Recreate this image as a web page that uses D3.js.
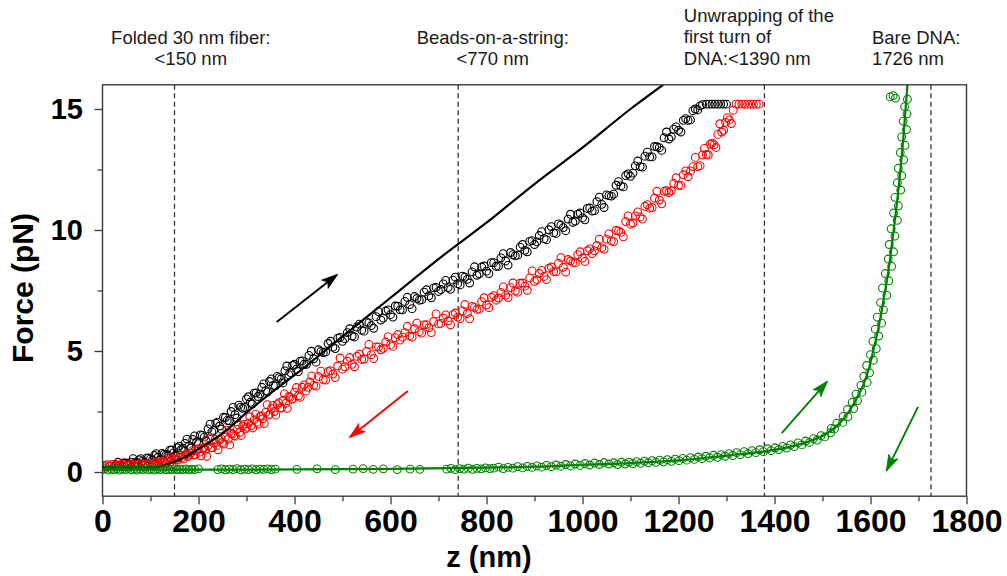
<!DOCTYPE html>
<html><head><meta charset="utf-8">
<script src="https://cdn.jsdelivr.net/npm/d3@7"></script>
<style>
body{margin:0;background:#fff}
svg{display:block}
text{font-family:"Liberation Sans",Arial,Helvetica,sans-serif}
</style>
</head><body>
<svg id="c" width="1007" height="576"></svg>
<script>
// ---------------- DATA ----------------
const xDomain = [0, 1800];
const yDomain = [-1, 16];
const xTicks = [0,200,400,600,800,1000,1200,1400,1600,1800];
const xMinorTicks = [100,300,500,700,900,1100,1300,1500,1700];
const yTicks = [0,5,10,15];
const yMinorTicks = [2.5,7.5,12.5];
const xLabel = "z (nm)";
const yLabel = "Force (pN)";
const markerZ = [150, 741, 1379, 1726];
const noteLines = [
  ["Folded 30 nm fiber:", "<150 nm"],
  ["Beads-on-a-string:", "<770 nm"],
  ["Unwrapping of the", "first turn of", "DNA:<1390 nm"],
  ["Bare DNA:", "1726 nm"]
];

// stretching (black circles)
const blackZ = [28,36,44,52,60,68,76,84,92,100,108,116,124,132,140,148,156,164,172,180,188,196,204,212,220,228,236,244,252,260,268,276,284,292,300,308,316,324,332,340,348,356,364,372,380,388,396,404,412,420,430,440,450,460,470,480,490,500,510,520,530,540,550,560,570,580,590,600,610,620,630,640,650,660,670,680,690,700,710,720,730,740,750,760,770,780,790,800,810,820,830,840,850,860,870,880,890,900,910,920,930,940,950,960,970,980,990,1000,1010,1020,1030,1040,1050,1060,1070,1080,1090,1100,1110,1120,1130,1140,1150,1160,1170,1180,1190,1200,1210,1220,1230,1240,1250,1258,1264,1270,1276,1282,1288,1294,1300,
32,40,48,56,64,72,80,88,96,104,112,120,128,136,144,152,160,168,176,184,192,200,208,216,224,232,240,248,256,264,272,280,288,296,304,312,320,328,336,344,352,360,368,376,384,392,400,408,416,425,435,445,455,465,475,485,495,505,515,525,535,545,555,565,575,585,595,605,615,625,635,645,655,665,675,685,695,705,715,725,735,745,755,765,775,785,795,805,815,825,835,845,855,865,875,885,895,905,915,925,935,945,955,965,975,985,995,1005,1015,1025,1035,1045,1055,1065,1075,1085,1095,1105,1115,1125,1135,1145,1155,1165,1175,1185,1195,1205,1215,1225,1235,1245];
const blackF = [0.30,0.26,0.37,0.33,0.41,0.38,0.50,0.45,0.57,0.54,0.68,0.61,0.77,0.70,0.90,0.79,1.00,0.93,1.18,1.08,1.35,1.25,1.53,1.44,1.78,1.66,2.02,1.90,2.26,2.13,2.50,2.37,2.76,2.63,3.02,2.88,3.26,3.12,3.50,3.36,3.74,3.58,3.95,3.84,4.18,4.02,4.40,4.25,4.58,4.45,4.82,4.68,5.05,4.93,5.31,5.16,5.53,5.40,5.76,5.62,5.99,5.86,6.20,6.05,6.42,6.28,6.65,6.50,6.86,6.70,7.05,6.92,7.25,7.10,7.43,7.28,7.61,7.46,7.77,7.62,7.93,7.78,8.09,7.96,8.27,8.13,8.47,8.30,8.65,8.50,8.85,8.72,9.07,8.93,9.29,9.16,9.53,9.40,9.77,9.64,10.01,9.88,10.25,10.10,10.45,10.32,10.65,10.50,10.89,10.78,11.17,11.06,11.45,11.40,11.85,11.82,12.25,12.22,12.65,12.62,13.05,13.02,13.45,13.40,13.81,13.76,14.17,14.12,14.53,14.53,14.93,14.96,15.18,15.2,15.2,15.2,15.2,15.2,15.2,15.2,15.2,
0.40,0.23,0.37,0.30,0.55,0.39,0.55,0.38,0.58,0.49,0.76,0.52,0.73,0.71,0.91,0.65,1.07,0.98,1.36,0.99,1.49,1.17,1.51,1.29,1.98,1.72,2.06,1.77,2.25,2.12,2.67,2.23,2.68,2.67,3.11,2.81,3.27,3.22,3.64,3.31,3.85,3.56,3.90,3.68,4.38,4.11,4.45,4.15,4.59,4.45,4.99,4.54,4.98,4.96,5.40,5.10,5.56,5.51,5.92,5.58,6.11,5.82,6.16,5.94,6.63,6.36,6.70,6.40,6.85,6.70,7.22,6.75,7.17,7.12,7.53,7.20,7.63,7.54,7.92,7.55,8.05,7.73,8.05,7.81,8.48,8.19,8.51,8.20,8.65,8.50,9.02,8.55,8.98,8.96,9.40,9.10,9.56,9.51,9.93,9.60,10.14,9.86,10.20,9.97,10.65,10.37,10.70,10.42,10.91,10.80,11.36,10.93,11.42,11.48,12.00,11.78,12.32,12.35,12.85,12.60,13.22,13.02,13.44,13.29,14.05,13.85,14.26,14.05,14.60,14.55,15.00,15.13];

// relaxation (red circles)
const redZ = [0,5,10,15,20,25,30,35,40,45,50,55,60,65,70,75,80,85,90,95,100,106,112,118,124,130,136,142,148,154,160,166,172,178,184,190,196,202,208,214,220,226,232,238,244,250,256,262,268,274,280,286,292,298,304,310,316,322,328,334,340,346,352,358,364,370,376,382,388,394,400,408,416,424,432,440,450,460,470,480,490,500,510,520,530,540,550,560,570,580,590,600,610,620,630,640,650,660,670,680,690,700,710,720,730,740,750,760,770,780,790,800,810,820,830,840,850,860,870,880,890,900,910,920,930,940,950,960,970,980,990,1000,1010,1020,1030,1040,1050,1060,1070,1080,1090,1100,1110,1120,1130,1140,1150,1160,1170,1180,1190,1200,1210,1220,1230,1240,1250,1258,1266,1274,1282,1290,1298,1306,1314,1320,1326,1332,1338,1344,1350,1356,1362,1368,
109,115,121,127,133,139,145,151,157,163,169,175,181,187,193,199,205,211,217,223,229,235,241,247,253,259,265,271,277,283,289,295,301,307,313,319,325,331,337,343,349,355,361,367,373,379,385,391,397,404,412,420,428,436,445,455,465,475,485,495,505,515,525,535,545,555,565,575,585,595,605,615,625,635,645,655,665,675,685,695,705,715,725,735,745,755,765,775,785,795,805,815,825,835,845,855,865,875,885,895,905,915,925,935,945,955,965,975,985,995,1005,1015,1025,1035,1045,1055,1065,1075,1085,1095,1105,1115,1125,1135,1145,1155,1165,1175,1185,1195,1205,1215,1225,1235,1245,1254,1262,1270,1278,1286,1294,1302,1310];
const redF = [0.28,0.22,0.30,0.24,0.31,0.23,0.29,0.25,0.32,0.24,0.30,0.26,0.33,0.25,0.31,0.27,0.34,0.26,0.33,0.29,0.36,0.30,0.40,0.34,0.45,0.39,0.50,0.43,0.56,0.50,0.62,0.58,0.70,0.64,0.78,0.72,0.88,0.82,0.97,0.90,1.08,1.00,1.20,1.10,1.33,1.22,1.45,1.36,1.60,1.50,1.76,1.64,1.90,1.78,2.02,1.92,2.15,2.06,2.30,2.20,2.46,2.35,2.62,2.50,2.78,2.66,2.96,2.84,3.12,3.00,3.30,3.15,3.50,3.35,3.72,3.58,3.95,3.82,4.15,4.05,4.38,4.25,4.58,4.45,4.78,4.65,4.98,4.85,5.17,5.05,5.37,5.25,5.55,5.45,5.76,5.62,5.92,5.80,6.08,5.96,6.22,6.12,6.36,6.25,6.50,6.40,6.66,6.55,6.84,6.72,7.04,6.90,7.22,7.10,7.42,7.30,7.62,7.48,7.80,7.68,8.02,7.88,8.20,8.08,8.42,8.28,8.62,8.46,8.78,8.66,8.98,8.84,9.14,9.02,9.36,9.26,9.62,9.55,9.98,9.90,10.35,10.24,10.58,10.54,10.98,10.90,11.32,11.24,11.60,11.55,11.92,11.85,12.28,12.20,12.62,12.62,13.10,13.12,13.55,13.52,13.95,14.05,14.45,14.55,14.95,15.2,15.2,15.2,15.2,15.2,15.2,15.2,15.2,15.2,
0.29,0.43,0.26,0.45,0.35,0.60,0.33,0.52,0.49,0.70,0.53,0.75,0.70,0.88,0.70,0.95,0.67,1.00,0.65,1.40,1.00,1.34,0.92,1.39,1.16,1.73,1.12,1.57,1.48,1.94,1.51,1.98,1.85,2.28,1.82,2.39,1.98,2.33,2.00,2.78,2.39,2.75,2.35,2.86,2.64,3.23,2.63,3.09,3.02,3.49,3.09,3.60,3.50,3.97,3.55,4.17,3.80,4.19,3.90,4.71,4.35,4.73,4.35,4.87,4.67,5.27,4.69,5.17,5.11,5.59,5.19,5.68,5.57,6.02,5.57,6.15,5.74,6.09,5.76,6.53,6.14,6.49,6.08,6.57,6.34,6.92,6.33,6.80,6.73,7.20,6.79,7.29,7.19,7.65,7.21,7.81,7.43,7.81,7.51,8.31,7.95,8.33,7.95,8.47,8.27,8.86,8.26,8.72,8.64,9.10,8.70,9.22,9.14,9.62,9.20,9.84,9.52,9.96,9.72,10.58,10.29,10.75,10.45,11.05,10.93,11.60,11.08,11.62,11.62,12.16,11.84,12.44,12.44,13.00,12.66,13.37,13.10,13.59,13.41,14.39,14.12,14.64,14.40];

// bare DNA (green circles)
const greenZ = [0,6,12,18,24,30,36,42,48,54,60,66,72,78,84,90,96,102,108,114,120,126,132,138,144,150,156,162,168,174,180,186,192,200,
240,248,256,264,272,280,288,296,304,312,320,328,336,344,352,360,
405,447,485,522,543,564,585,614,641,661,
717,726,735,744,753,762,771,780,789,798,807,
815,825,835,845,855,865,875,885,895,905,915,925,935,945,955,965,975,985,995,1005,1015,1025,1035,1045,1055,
1065,1073,1081,1089,1097,1105,1113,1121,1129,1137,1145,1153,1161,1169,1177,1185,1193,1201,1209,1217,1225,1233,1241,1249,1257,1265,1273,1281,1289,1297,1305,1313,1321,1329,1337,1345,1353,1361,1369,1377,1385,1393,1401,1409,1417,1425,1433,1441,1449,1457,1465,1473,1481,1489,1497,1505,
1517,1518,1525,1530,1542,1543,1553,1552,1565,1562,1573,1570,1582,1580,1593,1586,1598,1592,1606,1600,1612,1605,1617,1610,1623,1614,1627,1621,1634,1625,1638,1631,1644,1637,1648,1639,1651,1643,1656,1648,1658,1651,1663,1656,1665,1658,1669,1662,1672,1665,1675,1668,1676,1671,1677,1641,1647,1652];
const greenF = [0.10,0.14,0.08,0.12,0.09,0.13,0.08,0.12,0.10,0.14,0.09,0.12,0.08,0.13,0.10,0.14,0.09,0.12,0.08,0.13,0.10,0.14,0.09,0.12,0.10,0.13,0.09,0.12,0.10,0.13,0.09,0.12,0.10,0.13,
0.10,0.13,0.09,0.12,0.10,0.14,0.09,0.12,0.10,0.13,0.09,0.12,0.11,0.13,0.10,0.12,
0.11,0.13,0.10,0.12,0.14,0.11,0.13,0.10,0.12,0.11,
0.12,0.15,0.10,0.14,0.12,0.16,0.11,0.15,0.13,0.17,0.14,
0.16,0.20,0.14,0.19,0.16,0.22,0.17,0.23,0.19,0.25,0.20,0.27,0.22,0.29,0.24,0.31,0.25,0.33,0.27,0.35,0.29,0.37,0.31,0.39,0.33,
0.38,0.31,0.40,0.33,0.41,0.35,0.43,0.36,0.45,0.38,0.47,0.40,0.49,0.42,0.51,0.44,0.53,0.47,0.56,0.49,0.59,0.52,0.62,0.55,0.65,0.58,0.69,0.61,0.72,0.65,0.76,0.68,0.80,0.72,0.84,0.76,0.88,0.80,0.92,0.84,0.96,0.88,1.00,0.93,1.06,0.99,1.12,1.05,1.20,1.12,1.28,1.22,1.38,1.32,1.50,1.45,
1.62,1.80,1.78,2.02,2.05,2.30,2.28,2.58,2.62,2.88,2.95,3.22,3.30,3.58,3.70,3.95,4.10,4.40,4.62,4.85,5.10,5.40,5.62,5.90,6.15,6.40,6.70,7.00,7.30,7.60,7.90,8.20,8.50,8.80,9.10,9.40,9.75,10.05,10.40,10.70,11.00,11.35,11.65,11.95,12.25,12.55,12.90,13.20,13.50,13.85,14.15,14.50,14.80,15.10,15.40,15.50,15.55,15.45];

// fitted curves (solid lines)
const chromatinFitZ = [0,110,140,170,200,250,300,350,400,500,600,700,800,900,1000,1100,1168];
const chromatinFitF = [0.2,0.2,0.35,0.6,0.95,1.6,2.45,3.25,4.0,5.6,7.2,8.8,10.3,11.9,13.4,15.0,16.0];
const dnaFitZ = [0,300,600,800,900,1000,1100,1200,1300,1380,1440,1480,1510,1535,1555,1570,1585,1597,1608,1618,1628,1638,1647,1655,1662,1668,1673,1677];
const dnaFitF = [0.1,0.1,0.13,0.18,0.22,0.3,0.37,0.48,0.68,0.86,1.08,1.32,1.6,2.0,2.5,3.0,3.6,4.3,5.2,6.1,7.2,8.4,9.8,11.1,12.4,13.7,15.0,16.0];

// direction arrows (data units): [fromZ, fromF, toZ, toF]
const arrowBlack = [363, 6.2, 488, 8.14];
const arrowRed = [636, 3.35, 516, 1.45];
const arrowGreenUp = [1415, 1.61, 1509, 3.72];
const arrowGreenDown = [1699, 2.69, 1634, 0.08];

// ---------------- DRAW ----------------
const svg = d3.select("#c");
const L = 102.5, R = 966.5, T = 84.8, B = 496.2;
const x = d3.scaleLinear().domain(xDomain).range([L, R]);
const y = d3.scaleLinear().domain(yDomain).range([B, T]);
const frameCol = "#3a3a3a";

const defs = svg.append("defs");
defs.append("clipPath").attr("id","clip")
  .append("rect").attr("x",L).attr("y",T).attr("width",R-L).attr("height",B-T);
[["black","#000"],["red","#ff0000"],["green","#008000"]].forEach(([n,c])=>{
  defs.append("marker").attr("id","ah-"+n).attr("markerUnits","userSpaceOnUse")
    .attr("markerWidth",20).attr("markerHeight",20).attr("refX",0).attr("refY",0)
    .attr("viewBox","-14 -7 16 14").attr("orient","auto")
    .append("path").attr("d","M1,0 L-12,-4.2 L-9,0 L-12,4.2 Z").attr("fill",c).attr("stroke",c).attr("stroke-width",0.6);
});

// dashed markers
svg.append("g").selectAll("line").data(markerZ).join("line")
  .attr("x1",d=>x(d)).attr("x2",d=>x(d)).attr("y1",T).attr("y2",B)
  .attr("stroke","#333").attr("stroke-width",1.3).attr("stroke-dasharray","5,3.5");

const plot = svg.append("g").attr("clip-path","url(#clip)");
const circ = (zs, fs, col) => plot.append("g").selectAll("circle").data(zs.map((z,i)=>[z,fs[i]])).join("circle")
  .attr("cx",d=>x(d[0])).attr("cy",d=>y(d[1])).attr("r",3.9)
  .attr("fill","none").attr("stroke",col).attr("stroke-width",1.1);
circ(blackZ, blackF, "#000");
circ(redZ, redF, "#ff0000");
const line = d3.line().x(d=>x(d[0])).y(d=>y(d[1])).curve(d3.curveMonotoneX);
plot.append("path").attr("d", line(chromatinFitZ.map((z,i)=>[z,chromatinFitF[i]])))
  .attr("fill","none").attr("stroke","#000").attr("stroke-width",2.2);
circ(greenZ, greenF, "#008000");
plot.append("path").attr("d", line(dnaFitZ.map((z,i)=>[z,dnaFitF[i]])))
  .attr("fill","none").attr("stroke","#008000").attr("stroke-width",2.2);

// arrows
[[arrowBlack,"#000","black"],[arrowRed,"#ff0000","red"],[arrowGreenUp,"#008000","green"],[arrowGreenDown,"#008000","green"]]
.forEach(([a,c,n])=>{
  svg.append("line").attr("x1",x(a[0])).attr("y1",y(a[1])).attr("x2",x(a[2])).attr("y2",y(a[3]))
    .attr("stroke",c).attr("stroke-width",1.9).attr("marker-end","url(#ah-"+n+")");
});

// frame
svg.append("rect").attr("x",L).attr("y",T).attr("width",R-L).attr("height",B-T)
  .attr("fill","none").attr("stroke",frameCol).attr("stroke-width",1.4);

// axes
const xa = svg.append("g").attr("transform",`translate(0,${B})`)
  .call(d3.axisBottom(x).tickValues(xTicks).tickFormat(d3.format("d")).tickSize(8).tickPadding(5.5).tickSizeOuter(0));
const xm = svg.append("g").attr("transform",`translate(0,${B})`)
  .call(d3.axisBottom(x).tickValues(xMinorTicks).tickSize(5).tickFormat(""));
const ya = svg.append("g").attr("transform",`translate(${L},0)`)
  .call(d3.axisLeft(y).tickValues(yTicks).tickFormat(d3.format("d")).tickSize(8).tickPadding(11.5).tickSizeOuter(0));
const ym = svg.append("g").attr("transform",`translate(${L},0)`)
  .call(d3.axisLeft(y).tickValues(yMinorTicks).tickSize(5).tickFormat(""));
[xa,xm,ya,ym].forEach(g=>{
  g.select(".domain").remove();
  g.selectAll("line").attr("stroke",frameCol).attr("stroke-width",1.3);
});
xa.selectAll("text").attr("font-size",32).attr("font-weight","bold").attr("fill","#000")
  .attr("font-family","'Liberation Sans',Arial,sans-serif");
ya.selectAll("text").attr("font-size",29).attr("font-weight","bold").attr("fill","#000")
  .attr("font-family","'Liberation Sans',Arial,sans-serif");

// axis titles
svg.append("text").attr("x",x(805)).attr("y",567).attr("text-anchor","middle")
  .attr("font-size",29).attr("font-weight","bold").text(xLabel);
svg.append("text").attr("transform",`translate(33,${288}) rotate(-90)`).attr("text-anchor","middle")
  .attr("font-size",30).attr("font-weight","bold").text(yLabel);

// top annotations
const noteX = [x(184), x(813), x(1211), x(1603)];
const noteAnchor = ["middle","middle","start","start"];
const base2 = [44, 64.5], base3 = [22, 43.3, 64.5];
noteLines.forEach((lines,i)=>{
  const bases = lines.length===3 ? base3 : base2;
  lines.forEach((t,j)=>{
    svg.append("text").attr("x",noteX[i]).attr("y",bases[j]).attr("text-anchor",noteAnchor[i])
      .attr("font-size",18.5).attr("fill","#1a1a1a").text(t);
  });
});
</script>
</body></html>
